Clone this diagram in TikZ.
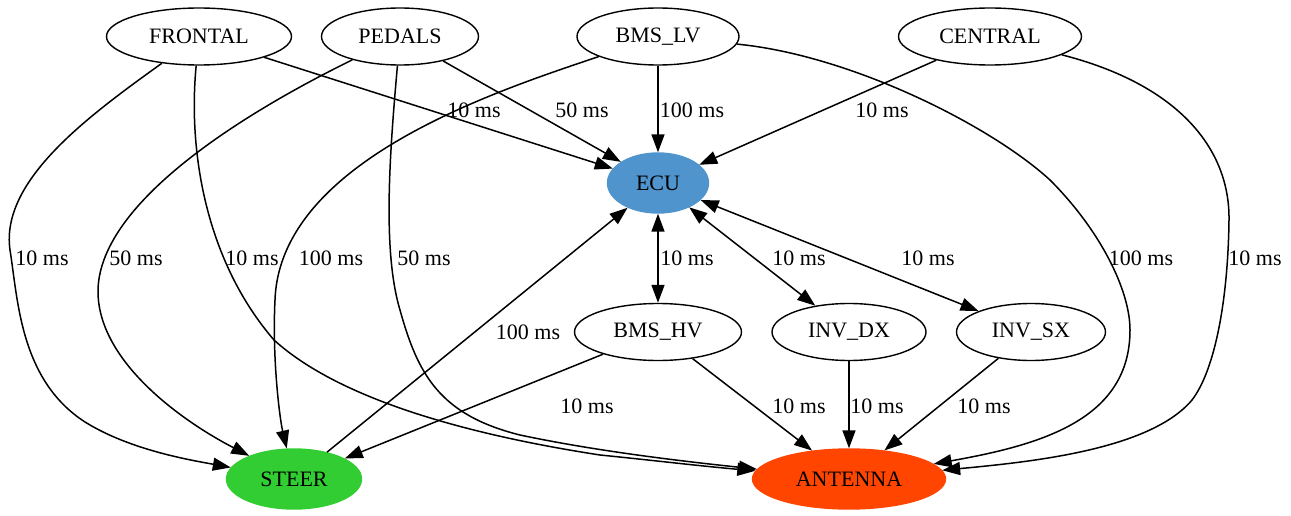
\documentclass[tikz,border=0pt]{standalone}
\usepackage{fontspec}
\setmainfont{Liberation Serif}
\usetikzlibrary{shapes.geometric,arrows.meta}
\definecolor{ecublue}{HTML}{4F94CD}
\definecolor{steergreen}{HTML}{32CD32}
\definecolor{antred}{HTML}{FF4500}
\begin{document}
\begin{tikzpicture}[x=1pt,y=-1pt,
  nd/.style={ellipse,draw=black,line width=1.4pt,inner sep=0pt,minimum height=57pt,font=\fontsize{22}{26}\selectfont},
  fnd/.style={ellipse,line width=1.4pt,inner sep=0pt,minimum height=60pt,font=\fontsize{22}{26}\selectfont},
  ed/.style={line width=1.5pt,-{Triangle[length=18pt,width=13pt]}},
  bi/.style={line width=1.5pt,{Triangle[length=18pt,width=13pt]}-{Triangle[length=18pt,width=13pt]}},
  lb/.style={inner sep=0pt,font=\fontsize{22}{26}\selectfont}
]
\useasboundingbox (0,0) rectangle (1291,516);
% nodes
\node[nd,minimum width=185pt] (FRONTAL) at (199,36.5) {FRONTAL};
\node[nd,minimum width=157pt] (PEDALS) at (400,36.5) {PEDALS};
\node[nd,minimum width=162pt] (BMSLV) at (658,36.5) {BMS\_LV};
\node[nd,minimum width=183pt] (CENTRAL) at (990,36.5) {CENTRAL};
\node[fnd,fill=ecublue,draw=ecublue,minimum width=101pt] (ECU) at (658,183) {ECU};
\node[nd,minimum width=167pt] (BMSHV) at (658,332) {BMS\_HV};
\node[nd,minimum width=154pt] (INVDX) at (849,332) {INV\_DX};
\node[nd,minimum width=149pt] (INVSX) at (1031,332) {INV\_SX};
\node[fnd,fill=steergreen,draw=steergreen,minimum width=135pt] (STEER) at (294,479) {STEER};
\node[fnd,fill=antred,draw=antred,minimum width=193pt] (ANTENNA) at (849,479) {ANTENNA};
% straight edges to ECU
\draw[ed] (FRONTAL) -- (ECU);
\draw[ed] (PEDALS) -- (ECU);
\draw[ed] (BMSLV) -- (ECU);
\draw[ed] (CENTRAL) -- (ECU);
% curved edges to STEER
\draw[ed] (FRONTAL) .. controls (90,115) and (0,180) .. (10,250) .. controls (18,300) and (20,380) .. (85,422) .. controls (130,450) and (190,460) .. (STEER);
\draw[ed] (PEDALS) .. controls (250,110) and (100,200) .. (98,290) .. controls (97,360) and (180,420) .. (STEER);
\draw[ed] (BMSLV) .. controls (500,90) and (280,160) .. (275,300) .. controls (272,360) and (280,420) .. (STEER);
% curved edges to ANTENNA
\draw[ed] (FRONTAL) .. controls (188,150) and (205,260) .. (274,340) .. controls (340,400) and (470,435) .. (600,455) .. controls (650,460) and (700,466) .. (ANTENNA);
\draw[ed] (PEDALS) .. controls (390,150) and (382,250) .. (400,310) .. controls (418,375) and (440,415) .. (520,435) .. controls (600,452) and (690,462) .. (ANTENNA);
\draw[ed] (BMSLV) .. controls (850,55) and (990,125) .. (1050,180) .. controls (1100,230) and (1130,290) .. (1130,330) .. controls (1130,420) and (1040,445) .. (ANTENNA);
\draw[ed] (CENTRAL) .. controls (1180,85) and (1230,150) .. (1229,220) .. controls (1228,300) and (1215,370) .. (1192,400) .. controls (1150,450) and (1030,462) .. (ANTENNA);
% ECU links
\draw[ed] (STEER) -- (ECU);
\draw[bi] (ECU) -- (BMSHV);
\draw[bi] (ECU) -- (INVDX);
\draw[bi] (ECU) -- (INVSX);
% lower edges
\draw[ed] (BMSHV) -- (STEER);
\draw[ed] (BMSHV) -- (ANTENNA);
\draw[ed] (INVDX) -- (ANTENNA);
\draw[ed] (INVSX) -- (ANTENNA);
% labels
\node[lb] (l1) at (474,110) {10 ms};
\node[lb] (l2) at (582,110) {50 ms};
\node[lb] (l3) at (692,110) {100 ms};
\node[lb] (l4) at (882,110) {10 ms};
\node[lb] (l5) at (42,258) {10 ms};
\node[lb] (l6) at (136,258) {50 ms};
\node[lb] (l7) at (252,258) {10 ms};
\node[lb] (l8) at (331,258) {100 ms};
\node[lb] (l9) at (424,258) {50 ms};
\node[lb] (l10) at (687,258) {10 ms};
\node[lb] (l11) at (799,258) {10 ms};
\node[lb] (l12) at (928,258) {10 ms};
\node[lb] (l13) at (1141,258) {100 ms};
\node[lb] (l14) at (1255,258) {10 ms};
\node[lb] (l15) at (528,332) {100 ms};
\node[lb] (l16) at (587,406) {10 ms};
\node[lb] (l17) at (799,406) {10 ms};
\node[lb] (l18) at (877,406) {10 ms};
\node[lb] (l19) at (984,406) {10 ms};
\end{tikzpicture}
\end{document}
